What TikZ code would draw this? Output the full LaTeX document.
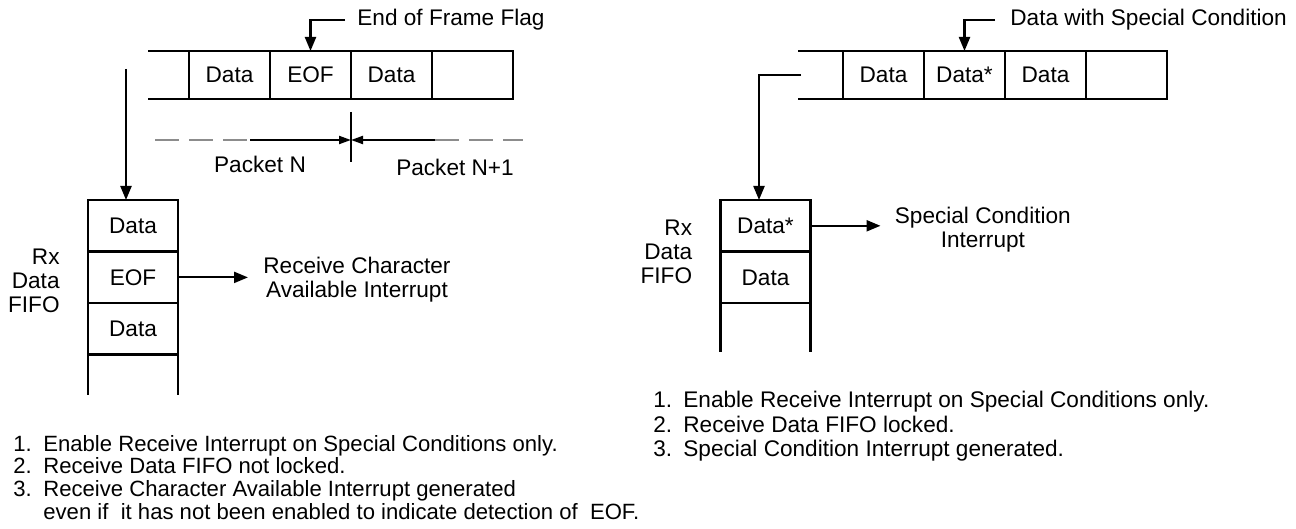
\documentclass[tikz,border=0pt]{standalone}
\usepackage{fontspec}
\setmainfont{Liberation Sans}
\usetikzlibrary{arrows.meta, positioning, calc}
\tikzset{every node/.style={font=\fontsize{11.3}{12}\selectfont}, every path/.style={line join=miter}, >={Triangle[length=7pt, width=5.5pt]}}
\tikzset{
    cell/.style={draw, line width=1.3pt, outer sep=0pt, inner sep=0pt, minimum width=40.5pt, minimum height=24pt},
    slot/.style={draw, line width=1.3pt, outer sep=0pt, inner sep=0pt, minimum width=45pt, minimum height=25.8pt},
    rail/.style={line width=1.3pt},
    arr/.style={->, line width=1.1pt},
    pkarr/.style={-{Triangle[length=6pt, width=4pt]}, line width=1pt},
    gapline/.style={black!45, line width=1pt, dash pattern=on 12pt off 5pt},
    note/.style={inner sep=0pt, align=center},
    steps/.style={anchor=base west, inner sep=0pt}
}

\begin{document}
\begin{tikzpicture}[x=0.5pt, y=-0.5pt]
    \useasboundingbox (0,0) rectangle (1296,529);

    % left: frame in the receive path
    \node [cell] (l1) at (229.5,75) {Data};
    \node [cell, right=0pt of l1] (l2) {EOF};
    \node [cell, right=0pt of l2] (l3) {Data};
    \node [cell, right=0pt of l3] (l4) {};
    \coordinate (lt) at (148,51);
    \coordinate (lb) at (148,99);
    \draw [rail] (lt) -- (l1.north west);
    \draw [rail] (lb) -- (l1.south west);

    \node [note, anchor=west, inner xsep=6pt] (eof) at (345,20) {End of Frame Flag};
    \draw [arr] (eof.west) -| (l2.north);

    \coordinate (pkt) at (351,112);
    \coordinate (pkb) at (351,162);
    \coordinate (pkm) at (351,140);
    \coordinate (dl) at (155,140);
    \coordinate (sl) at (250,140);
    \coordinate (sr) at (435,140);
    \coordinate (dr) at (523,140);
    \draw [line width=1pt] (pkt) -- (pkb);
    \draw [gapline] (dl) -- (sl);
    \draw [gapline] (sr) -- (dr);
    \draw [pkarr] (sl) -- (pkm);
    \draw [pkarr] (sr) -- (pkm);
    \node (pn) at (260,164) {Packet N};
    \node (pn1) at (455,167) {Packet N+1};

    \node [slot] (f1) at (133,225.8) {Data};
    \node [slot, below=0pt of f1] (f2) {EOF};
    \node [slot, below=0pt of f2] (f3) {Data};
    \draw [rail] (f3.south west) -- ++(0,40);
    \draw [rail] (f3.south east) -- ++(0,40);
    \coordinate (ls) at (126,69);
    \draw [arr] (ls) -- (ls |- f1.north);

    \node [note, align=right, left=14pt of f2, yshift=-1.5pt] (rxl) {Rx\\Data\\FIFO};
    \node [note, inner xsep=7.5pt, right=35pt of f2, yshift=-1pt] (rcai) {Receive Character\\Available Interrupt};
    \draw [arr] (f2.east) -- (f2.east -| rcai.west);

    \node [steps, font=\fontsize{11.05}{11.2}\selectfont] (lsteps) at (13,451) {%
        \begin{tabular}[t]{@{}p{15pt}@{}l@{}}
            1. & Enable Receive Interrupt on Special Conditions only.\\
            2. & Receive Data FIFO not locked.\\
            3. & Receive Character Available Interrupt generated\\
               & even if\ \ it has not been enabled to indicate detection of\ \ EOF.
        \end{tabular}};

    % right: data with special condition
    \node [cell] (r1) at (883.5,75) {Data};
    \node [cell, right=0pt of r1] (r2) {Data*};
    \node [cell, right=0pt of r2] (r3) {Data};
    \node [cell, right=0pt of r3] (r4) {};
    \coordinate (rt) at (798,51);
    \coordinate (rb) at (798,99);
    \draw [rail] (rt) -- (r1.north west);
    \draw [rail] (rb) -- (r1.south west);

    \node [note, anchor=west, inner xsep=7.5pt] (dsc) at (995,20) {Data with Special Condition};
    \draw [arr] (dsc.west) -| (r2.north);

    \node [slot] (g1) at (765.5,225.8) {Data*};
    \node [slot, below=0pt of g1] (g2) {Data};
    \draw [rail] (g2.south west) -- ++(0,49);
    \draw [rail] (g2.south east) -- ++(0,49);
    \coordinate (rs) at (801,75);
    \coordinate (rk) at (759,75);
    \draw [arr] (rs) -- (rk) -- (rk |- g1.north);

    \node [note, align=right, left=14pt of g1.south west] (rxr) {Rx\\Data\\FIFO};
    \node [note, inner xsep=7pt, right=35pt of g1, yshift=-2pt] (sci) {Special Condition\\Interrupt};
    \draw [arr] (g1.east) -- (g1.east -| sci.west);

    \node [steps, font=\fontsize{11.3}{12.2}\selectfont] (rsteps) at (653,408) {%
        \begin{tabular}[t]{@{}p{15pt}@{}l@{}}
            1. & Enable Receive Interrupt on Special Conditions only.\\
            2. & Receive Data FIFO locked.\\
            3. & Special Condition Interrupt generated.
        \end{tabular}};
\end{tikzpicture}
\end{document}
